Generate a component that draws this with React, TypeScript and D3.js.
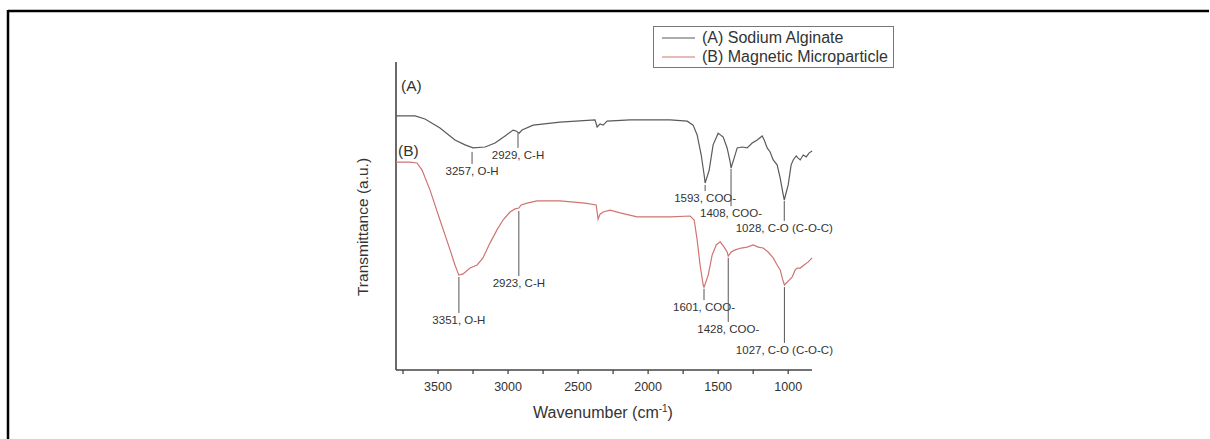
import React from "react";
import * as d3 from "d3";

// Wavenumber (cm-1) and transmittance (a.u.)
const wnA = [3800, 3664, 3593, 3486, 3379, 3307, 3250, 3164, 3093, 3021, 2964, 2943, 2921, 2900, 2821, 2629, 2379, 2364, 2343, 2321, 2293, 2129, 1843, 1721, 1679, 1650, 1621, 1600, 1593, 1564, 1536, 1500, 1464, 1436, 1414, 1408, 1386, 1364, 1329, 1293, 1257, 1221, 1186, 1171, 1150, 1129, 1107, 1079, 1057, 1040, 1028, 1000, 979, 964, 943, 929, 914, 893, 871, 850, 829];
const tA = [82.5, 82.5, 81.5, 78.6, 74.7, 73.1, 72.1, 72.4, 73.7, 76.0, 77.9, 77.6, 76.9, 77.9, 79.5, 80.5, 81.2, 78.9, 79.9, 79.5, 80.8, 81.2, 81.2, 80.8, 79.5, 76.3, 69.8, 63.3, 60.7, 64.9, 73.1, 76.9, 75.6, 72.1, 67.5, 65.6, 68.8, 72.1, 72.4, 72.1, 73.7, 74.7, 76.0, 74.7, 72.1, 70.8, 68.2, 66.6, 62.3, 58.0, 55.2, 60.1, 66.6, 68.2, 69.5, 68.8, 68.2, 69.8, 69.2, 70.5, 71.1];

const wnB = [3800, 3700, 3650, 3614, 3557, 3486, 3414, 3379, 3351, 3321, 3271, 3221, 3179, 3129, 3079, 3036, 2986, 2950, 2923, 2907, 2864, 2793, 2629, 2450, 2371, 2357, 2343, 2321, 2271, 2200, 2079, 1843, 1700, 1671, 1650, 1629, 1607, 1601, 1571, 1543, 1514, 1486, 1457, 1436, 1428, 1407, 1379, 1336, 1293, 1250, 1214, 1179, 1143, 1107, 1079, 1057, 1040, 1027, 993, 971, 950, 936, 914, 886, 857, 829];
const tB = [67.5, 67.5, 67.2, 64.9, 58.4, 48.7, 39.0, 34.1, 30.8, 31.2, 33.1, 34.1, 36.4, 41.2, 45.5, 48.7, 51.3, 52.3, 52.6, 53.6, 54.2, 54.9, 54.9, 54.2, 53.6, 49.0, 50.6, 51.3, 51.9, 51.0, 49.7, 49.7, 50.0, 48.7, 42.2, 34.1, 27.6, 26.9, 30.8, 37.3, 40.6, 41.6, 39.9, 38.3, 37.0, 38.3, 39.0, 39.6, 39.9, 40.6, 39.9, 39.6, 38.3, 36.4, 34.1, 32.5, 29.5, 27.6, 29.2, 30.2, 32.5, 33.1, 33.1, 34.1, 35.1, 36.4];

// Peak annotations: wavenumber, label, line top and bottom (a.u.)
const annWn = [3257, 2929, 1593, 1408, 1028, 3351, 2923, 1601, 1428, 1027];
const annLabel = ["3257, O-H", "2929, C-H", "1593, COO-", "1408, COO-", "1028, C-O (C-O-C)", "3351, O-H", "2923, C-H", "1601, COO-", "1428, COO-", "1027, C-O (C-O-C)"];
const annTop = [70.8, 76.9, 60.1, 65.3, 54.9, 30.2, 51.6, 26.3, 36.4, 26.9];
const annBottom = [66.9, 72.1, 58.1, 53.2, 48.4, 18.5, 30.5, 22.7, 15.6, 8.8];

const majorTicks = [3500, 3000, 2500, 2000, 1500, 1000];
const minorTicks = [3750, 3250, 2750, 2250, 1750, 1250];
const seriesNames = ["(A) Sodium Alginate", "(B) Magnetic Microparticle"];
const seriesColors = ["#5a5a5a", "#cf7470"];

const FONT = "'Liberation Sans', Arial, sans-serif";

export default function App() {
  const W = 1210, H = 439;
  const x = d3.scaleLinear().domain([3800, 830]).range([396, 812]);
  const y = d3.scaleLinear().domain([0, 100]).range([370, 62]);

  const line = d3.line<[number, number]>().x(d => x(d[0])).y(d => y(d[1]));
  const dA = line(wnA.map((w, i) => [w, tA[i]] as [number, number])) || "";
  const dB = line(wnB.map((w, i) => [w, tB[i]] as [number, number])) || "";

  const textColor = "#333";
  const axisColor = "#444";

  return (
    <svg width={W} height={H} style={{ position: "absolute", left: 0, top: 0, background: "#fff" }} fontFamily={FONT}>
      {/* outer frame (top and left edges) */}
      <line x1={8} y1={11} x2={1209} y2={11} stroke="#000" strokeWidth={2.5} />
      <line x1={8} y1={10} x2={8} y2={439} stroke="#000" strokeWidth={2.5} />

      {/* axes */}
      <line x1={x(3800)} y1={y(100)} x2={x(3800)} y2={y(0)} stroke={axisColor} strokeWidth={1.6} />
      <line x1={x(3800)} y1={y(0)} x2={x(830)} y2={y(0)} stroke={axisColor} strokeWidth={1.6} />
      {majorTicks.map(t => (
        <g key={"M" + t}>
          <line x1={x(t)} x2={x(t)} y1={y(0)} y2={y(0) + 4} stroke={axisColor} strokeWidth={1.3} />
          <text x={x(t)} y={y(0) + 21} textAnchor="middle" fontSize={12.5} fill={textColor}>{t}</text>
        </g>
      ))}
      {minorTicks.map(t => (
        <line key={"m" + t} x1={x(t)} x2={x(t)} y1={y(0)} y2={y(0) + 4} stroke={axisColor} strokeWidth={1.3} />
      ))}
      <text x={603} y={418} textAnchor="middle" fontSize={16} fill={textColor}>
        Wavenumber (cm<tspan dy={-6} fontSize={10}>-1</tspan><tspan dy={6}>)</tspan>
      </text>
      <text transform={`translate(368,227) rotate(-90)`} textAnchor="middle" fontSize={15.5} fill={textColor}>
        Transmittance (a.u.)
      </text>

      {/* curves */}
      <path d={dA} fill="none" stroke={seriesColors[0]} strokeWidth={1.2} />
      <path d={dB} fill="none" stroke={seriesColors[1]} strokeWidth={1.2} />

      <text x={401} y={91} fontSize={15.5} fill={textColor}>(A)</text>
      <text x={398} y={156} fontSize={15.5} fill={textColor}>(B)</text>

      {/* annotations */}
      {annWn.map((w, i) => (
        <g key={"a" + i}>
          <line x1={x(w)} x2={x(w)} y1={y(annTop[i])} y2={y(annBottom[i])} stroke="#555" strokeWidth={1} />
          <text x={x(w)} y={y(annBottom[i]) + 11} textAnchor="middle" fontSize={11.5} fill={textColor}>{annLabel[i]}</text>
        </g>
      ))}

      {/* legend */}
      <rect x={653.5} y={26.5} width={240} height={41} fill="#fff" stroke="#777" strokeWidth={1} />
      {seriesNames.map((n, i) => (
        <g key={n}>
          <line x1={662} x2={695} y1={38 + i * 19} y2={38 + i * 19} stroke={seriesColors[i]} strokeWidth={1.2} />
          <text x={702} y={43 + i * 19} fontSize={16} fill={textColor}>{n}</text>
        </g>
      ))}
    </svg>
  );
}
